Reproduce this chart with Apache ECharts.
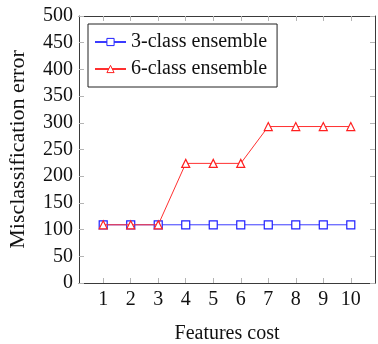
<!DOCTYPE html>
<html>
<head>
<meta charset="utf-8">
<script src="https://cdn.jsdelivr.net/npm/echarts@6/dist/echarts.min.js"></script>
<style>
html,body{margin:0;padding:0;background:#fff;}
#chart{width:378px;height:344px;}
</style>
</head>
<body>
<div id="chart"></div>
<script>
const featuresCost = [1, 2, 3, 4, 5, 6, 7, 8, 9, 10];
const threeClass = [109, 109, 109, 109, 109, 109, 109, 109, 109, 109];
const sixClass = [109, 109, 109, 224, 224, 224, 293, 293, 293, 293];
const yTicks = [0, 50, 100, 150, 200, 250, 300, 350, 400, 450, 500];

const FONT = '"Liberation Serif", "DejaVu Serif", serif';
const AXIS_COLOR = '#3a3a3a';
const TICK_COLOR = '#b5b5b5';

const chart = echarts.init(document.getElementById('chart'), null, {renderer: 'canvas'});

function xAxisCfg(pos, showLabels) {
  return {
    type: 'value', position: pos, min: 0.12, max: 10.88,
    axisLine: {show: true, onZero: false, lineStyle: {color: AXIS_COLOR, width: 1}},
    axisTick: {show: true, inside: true, length: 5, customValues: featuresCost, lineStyle: {color: TICK_COLOR}},
    axisLabel: {show: showLabels, customValues: featuresCost, margin: 7, color: '#111', fontFamily: FONT, fontSize: 20},
    splitLine: {show: false},
    name: showLabels ? 'Features cost' : '',
    nameLocation: 'middle', nameGap: 41,
    nameTextStyle: {color: '#111', fontFamily: FONT, fontSize: 20}
  };
}
function yAxisCfg(pos, showLabels) {
  return {
    type: 'value', position: pos, min: 0, max: 500, interval: 50,
    axisLine: {show: true, onZero: false, lineStyle: {color: AXIS_COLOR, width: 1}},
    axisTick: {show: true, inside: true, length: 5, customValues: yTicks, lineStyle: {color: TICK_COLOR}},
    axisLabel: {show: showLabels, margin: 6, color: '#111', fontFamily: FONT, fontSize: 20},
    splitLine: {show: false},
    name: showLabels ? 'Misclassification error' : '',
    nameLocation: 'middle', nameGap: 50,
    nameTextStyle: {color: '#111', fontFamily: FONT, fontSize: 22}
  };
}

chart.setOption({
  animation: false,
  backgroundColor: '#fff',
  grid: {left: 79, right: 3, top: 16, bottom: 61, containLabel: false, outerBoundsMode: 'none'},
  xAxis: [xAxisCfg('bottom', true), xAxisCfg('top', false)],
  yAxis: [yAxisCfg('left', true), yAxisCfg('right', false)],
  legend: {
    orient: 'vertical', left: 88, top: 24,
    backgroundColor: '#fff', borderColor: '#222', borderWidth: 1,
    padding: [8, 10, 8, 6], itemGap: 7, itemWidth: 31, itemHeight: 9, itemTextGap: 5,
    itemStyle: {borderWidth: 1},
    textStyle: {color: '#111', fontFamily: FONT, fontSize: 20},
    data: ['3-class ensemble', '6-class ensemble']
  },
  series: [
    {
      name: '3-class ensemble', type: 'line',
      data: featuresCost.map((x, i) => [x, threeClass[i]]),
      symbol: 'rect', symbolSize: 8,
      lineStyle: {color: '#3b3bff', width: 1},
      itemStyle: {color: '#fff', borderColor: '#2020ff', borderWidth: 1.2},
      color: '#3b3bff', z: 2
    },
    {
      name: '6-class ensemble', type: 'line',
      data: featuresCost.map((x, i) => [x, sixClass[i]]),
      symbol: 'triangle', symbolSize: 8,
      lineStyle: {color: '#ff3030', width: 1},
      itemStyle: {color: '#fff', borderColor: '#ff2020', borderWidth: 1.2},
      color: '#ff3030', z: 3
    }
  ]
});
</script>
</body>
</html>
